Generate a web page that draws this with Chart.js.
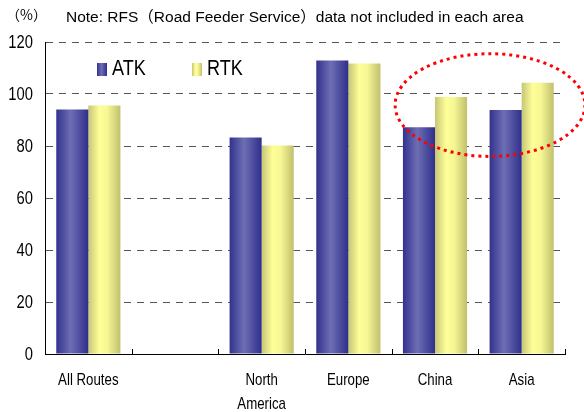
<!DOCTYPE html>
<html>
<head>
<meta charset="utf-8">
<script src="https://cdn.jsdelivr.net/npm/chart.js@4.4.1/dist/chart.umd.min.js"></script>
<style>
  html, body { margin: 0; padding: 0; background: #fff; }
  #wrap { width: 584px; height: 412px; }
</style>
</head>
<body>
<div id="wrap"><canvas id="chart" width="584" height="412"></canvas></div>
<script>
const categories = ["All Routes", "", ["North", "America"], "Europe", "China", "Asia"];
const seriesNames = ["ATK", "RTK"];
const atkValues = [94.0, null, 83.3, 112.9, 87.2, 93.8];
const rtkValues = [95.6, null, 80.2, 111.7, 98.8, 104.3];
const yTicks = [0, 20, 40, 60, 80, 100, 120];
const unitLabel = "（%）";
const noteText = "Note: RFS（Road Feeder Service）data not included in each area";

// highlight ring, in data units (category index / axis value)
const highlight = { x0: 3.54, x1: 5.73, y0: 76, y1: 115.5 };

const FONT = "'Liberation Sans', Arial, sans-serif";
const CAT_PCT = 0.74;

const gradStops = [
  [[0, "#32328f"], [0.45, "#6e6eb4"], [1, "#2f2f8c"]],
  [[0, "#c6c675"], [0.35, "#ffff99"], [0.6, "#f6f693"], [1, "#c0c06e"]],
];

function makeGradient(ctx, left, width, stops) {
  const g = ctx.createLinearGradient(left, 0, left + width, 0);
  stops.forEach(([o, c]) => g.addColorStop(o, c));
  return g;
}

function barFill(context) {
  const chart = context.chart;
  const xs = chart.scales.x;
  const stops = gradStops[context.datasetIndex];
  if (!chart.chartArea || !xs) return stops[1][1];
  const cx = xs.getPixelForValue(context.dataIndex);
  const catW = xs.width / categories.length;
  const barW = (catW * CAT_PCT) / 2;
  const left = context.datasetIndex === 0 ? cx - barW : cx;
  return makeGradient(chart.ctx, left, barW, stops);
}

// squeeze text sideways so it reads like a narrow face
function narrowText(ctx, text, x, y, align, squeeze) {
  ctx.save();
  ctx.translate(x, y);
  ctx.scale(squeeze, 1);
  ctx.textAlign = align;
  ctx.fillText(text, 0, 0);
  ctx.restore();
}

const decorPlugin = {
  id: "decor",
  afterDraw(chart) {
    const { ctx, chartArea } = chart;
    const xs = chart.scales.x;
    const ys = chart.scales.y;

    ctx.save();
    ctx.fillStyle = "#000";
    ctx.textBaseline = "middle";

    // unit + note
    ctx.font = "14px 'Noto Sans CJK JP', sans-serif";
    ctx.fillText(unitLabel, 6, 15);
    ctx.font = "15.5px " + FONT + ", 'Noto Sans CJK JP'";
    ctx.fillText(noteText, 66, 18);

    // y tick labels
    ctx.font = "18px " + FONT;
    yTicks.forEach((v) => narrowText(ctx, String(v), 33, ys.getPixelForValue(v) + 1, "right", 0.82));

    // x tick labels
    ctx.font = "17px " + FONT;
    categories.forEach((lab, i) => {
      const lines = Array.isArray(lab) ? lab : [lab];
      const cx = xs.getPixelForValue(i);
      lines.forEach((line, j) => narrowText(ctx, line, cx, chartArea.bottom + 26 + j * 24, "center", 0.78));
    });

    // category tick marks, pointing up into the plot
    ctx.strokeStyle = "#000";
    ctx.lineWidth = 1;
    const catW = xs.width / categories.length;
    for (let i = 1; i <= categories.length; i++) {
      const x = Math.round(xs.left + i * catW) + 0.5;
      ctx.beginPath();
      ctx.moveTo(x, chartArea.bottom - 5);
      ctx.lineTo(x, chartArea.bottom);
      ctx.stroke();
    }

    // legend
    ctx.font = "22px " + FONT;
    const legendX = [97, 192];
    seriesNames.forEach((name, i) => {
      const bx = legendX[i];
      ctx.fillStyle = makeGradient(ctx, bx, 10, gradStops[i]);
      ctx.fillRect(bx, 63, 10, 13);
      ctx.fillStyle = "#000";
      narrowText(ctx, name, bx + 15, 69, "left", 0.82);
    });

    // red dotted ring
    const l = xs.getPixelForValue(highlight.x0);
    const r = xs.getPixelForValue(highlight.x1);
    const t = ys.getPixelForValue(highlight.y1);
    const b = ys.getPixelForValue(highlight.y0);
    ctx.beginPath();
    ctx.ellipse((l + r) / 2, (t + b) / 2, (r - l) / 2, (b - t) / 2, 0, 0, Math.PI * 2);
    ctx.strokeStyle = "#ff0000";
    ctx.lineWidth = 3;
    ctx.setLineDash([3, 4]);
    ctx.stroke();
    ctx.restore();
  },
};

new Chart(document.getElementById("chart"), {
  type: "bar",
  data: {
    labels: categories,
    datasets: [
      { label: seriesNames[0], data: atkValues, backgroundColor: barFill },
      { label: seriesNames[1], data: rtkValues, backgroundColor: barFill },
    ],
  },
  options: {
    responsive: false,
    animation: false,
    events: [],
    layout: { padding: { top: 42, right: 19, left: 0, bottom: 0 } },
    datasets: {
      bar: { categoryPercentage: CAT_PCT, barPercentage: 1, borderWidth: 0 },
    },
    plugins: {
      legend: { display: false },
      tooltip: { enabled: false },
    },
    scales: {
      x: {
        grid: { display: false },
        border: { display: true, color: "#000", width: 1 },
        ticks: { display: false, autoSkip: false },
        afterFit(scale) { scale.height = 58; },
      },
      y: {
        min: 0,
        max: 120,
        afterBuildTicks(scale) { scale.ticks = yTicks.map((v) => ({ value: v })); },
        grid: { color: "#555", lineWidth: 1, drawTicks: false },
        border: { display: true, color: "#000", width: 1, dash: [7, 6] },
        ticks: { display: false },
        afterFit(scale) { scale.width = 45; },
      },
    },
  },
  plugins: [decorPlugin],
});
</script>
</body>
</html>
